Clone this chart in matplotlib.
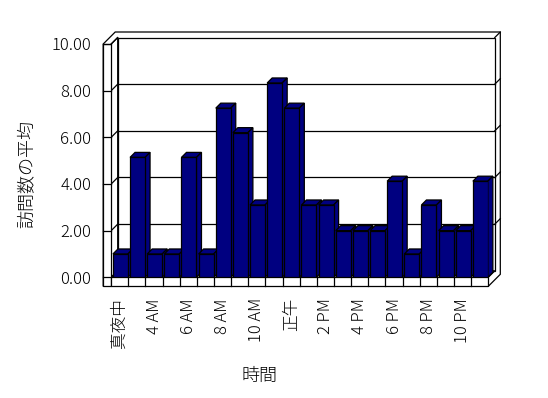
import matplotlib
matplotlib.use("Agg")
import matplotlib.pyplot as plt
from matplotlib.patches import Polygon, Rectangle

plt.rcParams["font.family"] = ["Noto Sans CJK JP", "DejaVu Sans"]
plt.rcParams["font.weight"] = "light"

# 22 hourly buckets (one early-morning hour is missing in the source data)
hours = ["真夜中", "1 AM", "4 AM", "5 AM", "6 AM", "7 AM", "8 AM", "9 AM",
         "10 AM", "11 AM", "正午", "1 PM", "2 PM", "3 PM", "4 PM", "5 PM",
         "6 PM", "7 PM", "8 PM", "9 PM", "10 PM", "11 PM"]
visits = [1.0, 5.14, 1.0, 1.0, 5.14, 1.0, 7.25, 6.2, 3.1, 8.33, 7.25, 3.1,
          3.1, 2.0, 2.0, 2.0, 4.12, 1.0, 3.1, 2.0, 2.0, 4.12]
y_ticks = [0, 2, 4, 6, 8, 10]

NAVY = "#000080"
W, H = 548, 398


def main():
    fig = plt.figure(figsize=(W / 100, H / 100), dpi=100)
    # front plane of the 3d box, in pixels
    left, right, top, bottom = 111.2, 488.3, 44.0, 277.3
    ax = fig.add_axes([left / W, (H - bottom) / H, (right - left) / W, (bottom - top) / H])
    n = len(hours)
    ax.set_xlim(0, n)
    ax.set_ylim(0, 10)
    for s in ax.spines.values():
        s.set_visible(False)
    ax.set_facecolor("none")

    px_x = (right - left) / n
    px_y = (bottom - top) / 10
    dx, dy = 6.5 / px_x, 6.5 / px_y          # depth of the box
    sx, sy = 5.5 / px_x, 5.5 / px_y          # thickness of the back wall
    ww = 8.0 / px_x                          # left wall thickness
    fh = 9.0 / px_y                          # floor thickness
    bdx, bdy = 5.0 / px_x, 5.0 / px_y        # bar depth

    kw = dict(clip_on=False, lw=0.9)

    # outer silhouette
    ax.add_patch(Polygon([(-ww, 10), (-ww + dx + sx, 10 + dy + sy), (n + dx + sx, 10 + dy + sy),
                          (n + dx + sx, -fh + dy + sy), (n, -fh), (-ww, -fh)],
                         fc="white", ec="black", zorder=1, **kw))
    # back wall
    ax.add_patch(Rectangle((dx, dy), n, 10, fc="white", ec="black", zorder=2, **kw))
    for v in y_ticks[1:-1]:
        ax.plot([dx, n + dx], [v + dy, v + dy], color="black", zorder=2, **kw)
    for v in y_ticks[1:]:
        ax.plot([n + dx, n + dx + sx], [v + dy, v + dy + sy], color="black", zorder=2, **kw)
    # left wall inner face
    ax.add_patch(Polygon([(0, 0), (dx, dy), (dx, 10 + dy), (0, 10)],
                         fc="white", ec="black", zorder=2, **kw))
    for v in y_ticks:
        ax.plot([0, dx], [v, v + dy], color="black", zorder=2, **kw)
    # left wall front face with ticks
    ax.add_patch(Rectangle((-ww, -fh), ww, 10 + fh, fc="white", ec="black", zorder=3, **kw))
    for v in y_ticks:
        ax.plot([-ww, 0], [v, v], color="black", zorder=3, **kw)
    # floor
    ax.add_patch(Polygon([(0, 0), (n, 0), (n + dx, dy), (dx, dy)],
                         fc="white", ec="black", zorder=2, **kw))
    ax.add_patch(Rectangle((0, -fh), n, fh, fc="white", ec="black", zorder=3, **kw))
    for k in range(1, n):
        ax.plot([k, k], [-fh, 0], color="black", zorder=3, **kw)

    # bars: front face via ax.bar, then top and side faces
    x0 = [k + 0.1 for k in range(n)]
    bw = 0.875
    bars = ax.bar(x0, visits, width=bw, align="edge", color=NAVY,
                  edgecolor="black", linewidth=0.9)
    for i, (b, v) in enumerate(zip(bars, visits)):
        z = 10 + i
        b.set_zorder(z + 0.5)
        xl, xr = x0[i], x0[i] + bw
        ax.add_patch(Polygon([(xl, v), (xr, v), (xr + bdx, v + bdy), (xl + bdx, v + bdy)],
                             fc=NAVY, ec="black", zorder=z, **kw))
        ax.add_patch(Polygon([(xr, 0), (xr, v), (xr + bdx, v + bdy), (xr + bdx, bdy)],
                             fc=NAVY, ec="black", zorder=z, **kw))

    ax.set_yticks(y_ticks, [f"{v:.2f}" for v in y_ticks])
    ax.set_xticks([k + 0.5 for k in range(0, n, 2)], [hours[k] for k in range(0, n, 2)],
                  rotation=90)
    ax.tick_params(axis="y", length=0, pad=14.5, labelsize=12)
    ax.tick_params(axis="x", length=0, pad=15, labelsize=12)

    ax.text((27 - left) / (right - left), (bottom - 174) / (bottom - top), "訪問数の平均",
            rotation=90, ha="center", va="center", fontsize=13, transform=ax.transAxes)
    ax.text((259 - left) / (right - left), (bottom - 376) / (bottom - top), "時間",
            ha="center", va="center", fontsize=13, transform=ax.transAxes)

    fig.savefig("out.png", dpi=100)


if __name__ == "__main__":
    main()
